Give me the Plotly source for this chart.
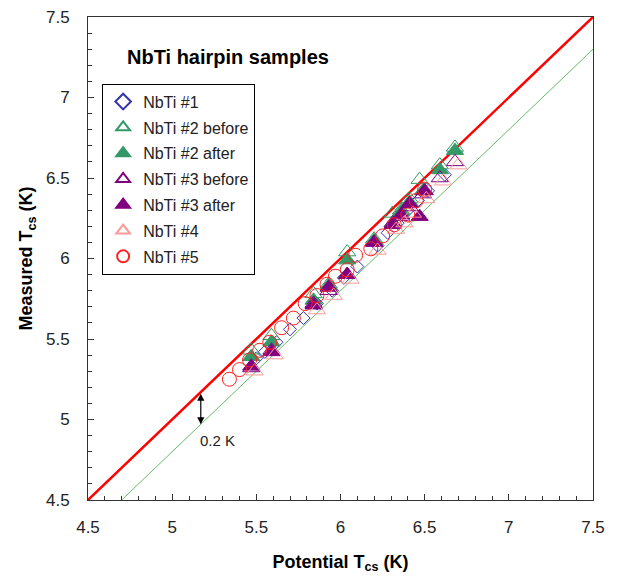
import plotly.graph_objects as go

# ---- data ----
nb1_x = [5.50, 5.55, 5.62, 5.70, 5.78, 5.86, 5.95, 6.02, 6.10, 6.22, 6.28, 6.34, 6.40, 6.46, 6.52, 6.62]
nb1_y = [5.38, 5.42, 5.48, 5.56, 5.63, 5.72, 5.80, 5.88, 5.95, 6.08, 6.16, 6.22, 6.30, 6.36, 6.42, 6.52]

nb2b_x = [5.47, 5.59, 5.84, 5.93, 6.04, 6.20, 6.31, 6.36, 6.41, 6.47, 6.59, 6.68]
nb2b_y = [5.43, 5.52, 5.78, 5.84, 6.04, 6.12, 6.28, 6.30, 6.37, 6.49, 6.58, 6.69]

nb2a_x = [5.47, 5.59, 5.84, 5.93, 6.04, 6.20, 6.31, 6.36, 6.41, 6.49, 6.59, 6.68]
nb2a_y = [5.39, 5.48, 5.74, 5.83, 5.99, 6.11, 6.22, 6.29, 6.35, 6.42, 6.55, 6.67]

nb3b_x = [5.47, 5.59, 5.84, 5.93, 6.04, 6.20, 6.31, 6.36, 6.41, 6.49, 6.59, 6.68]
nb3b_y = [5.32, 5.43, 5.72, 5.80, 5.90, 6.10, 6.22, 6.26, 6.32, 6.40, 6.50, 6.60]

nb3a_x = [5.47, 5.59, 5.84, 5.93, 6.04, 6.20, 6.31, 6.36, 6.41, 6.47, 6.50]
nb3a_y = [5.33, 5.42, 5.71, 5.82, 5.90, 6.10, 6.21, 6.27, 6.34, 6.26, 6.42]

nb4_x = [5.49, 5.61, 5.86, 5.96, 6.06, 6.22, 6.33, 6.38, 6.43, 6.51, 6.61, 6.70]
nb4_y = [5.30, 5.40, 5.68, 5.77, 5.87, 6.05, 6.18, 6.22, 6.28, 6.37, 6.48, 6.58]

nb5_x = [5.34, 5.40, 5.46, 5.52, 5.58, 5.65, 5.72, 5.79, 5.86, 5.92, 5.97, 6.04, 6.09, 6.18, 6.25, 6.32, 6.40, 6.45, 6.50]
nb5_y = [5.25, 5.31, 5.37, 5.43, 5.48, 5.57, 5.63, 5.72, 5.77, 5.84, 5.89, 5.93, 6.02, 6.06, 6.14, 6.21, 6.27, 6.36, 6.43]

line_x = [4.5, 7.5]
line_y = [4.5, 7.5]
offset_x = [4.7, 7.5]
offset_y = [4.5, 7.3]

FONT = "Liberation Sans, Arial"

fig = go.Figure()

fig.add_trace(go.Scatter(x=line_x, y=line_y, mode="lines", line=dict(color="#ff0000", width=2.5),
                         showlegend=False, hoverinfo="skip"))
fig.add_trace(go.Scatter(x=offset_x, y=offset_y, mode="lines", line=dict(color="#66bb66", width=1),
                         showlegend=False, hoverinfo="skip"))

series = [
    ("NbTi #1", nb1_x, nb1_y, "diamond-open", "#3333aa", 10),
    ("NbTi #2 before", nb2b_x, nb2b_y, "triangle-up-open", "#339966", 15),
    ("NbTi #2 after", nb2a_x, nb2a_y, "triangle-up", "#339966", 15),
    ("NbTi #3 before", nb3b_x, nb3b_y, "triangle-up-open", "#800080", 15),
    ("NbTi #3 after", nb3a_x, nb3a_y, "triangle-up", "#800080", 15),
    ("NbTi #4", nb4_x, nb4_y, "triangle-up-open", "#ff9999", 15),
    ("NbTi #5", nb5_x, nb5_y, "circle-open", "#ff2020", 14),
]
for i, (name, xs, ys, sym, col, sz) in enumerate(series):
    fig.add_trace(go.Scatter(
        x=xs, y=ys, mode="markers", name=name, legendgroup="g%d" % i,
        marker=dict(symbol=sym, color=col, size=sz, line=dict(color=col, width=1)),
    ))

fig.add_annotation(x=4.72, y=7.25, xref="x", yref="y", text="<b>NbTi hairpin samples</b>",
                   showarrow=False, xanchor="left", font=dict(family=FONT, size=20, color="black"))
fig.add_annotation(x=5.17, y=4.97, ax=5.17, ay=5.17, xref="x", yref="y", axref="x", ayref="y",
                   text="", showarrow=True, arrowhead=2, arrowside="end+start", arrowsize=1.2,
                   arrowwidth=1.2, arrowcolor="black")
fig.add_annotation(x=5.27, y=4.87, xref="x", yref="y", text="0.2 K", showarrow=False,
                   font=dict(family=FONT, size=15, color="#222"))

axis_common = dict(
    range=[4.5, 7.5], dtick=0.5, tick0=4.5, ticks="inside", ticklen=6, tickcolor="#333",
    showline=True, linecolor="#333", linewidth=1, mirror=True, showgrid=False, zeroline=False,
    tickfont=dict(family=FONT, size=17, color="#222"),
    minor=dict(dtick=0.1, ticks="inside", ticklen=4, tickcolor="#333"),
    automargin=False,
)

fig.update_layout(
    width=633, height=579,
    margin=dict(l=88, r=40, t=17, b=79),
    paper_bgcolor="white", plot_bgcolor="white",
    xaxis=dict(axis_common, ticklabelstandoff=12,
               title=dict(text="<b>Potential T<sub>cs</sub> (K)</b>", standoff=18,
                          font=dict(family=FONT, size=18, color="black"))),
    yaxis=dict(axis_common, ticklabelstandoff=14,
               title=dict(text="<b>Measured T<sub>cs</sub> (K)</b>", standoff=8,
                          font=dict(family=FONT, size=18, color="black"))),
    legend=dict(x=0.028, y=0.862, xanchor="left", yanchor="top", bordercolor="black", borderwidth=1,
                bgcolor="white", font=dict(family=FONT, size=16, color="#222"),
                tracegroupgap=2, itemwidth=30, itemsizing="constant"),
    showlegend=True,
)

fig.write_html("out.html")
